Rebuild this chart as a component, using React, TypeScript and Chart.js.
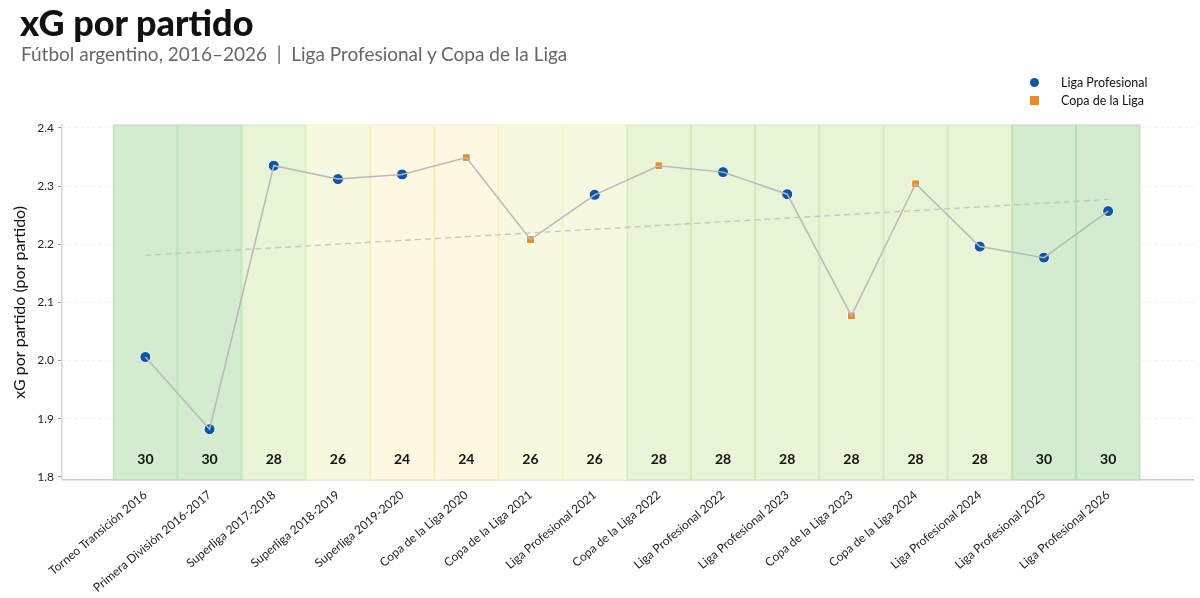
import React, { useEffect, useRef } from "react";
import { Chart, registerables } from "chart.js";
Chart.register(...registerables);

const categories = ["Torneo Transición 2016","Primera División 2016-2017","Superliga 2017-2018","Superliga 2018-2019","Superliga 2019-2020","Copa de la Liga 2020","Copa de la Liga 2021","Liga Profesional 2021","Copa de la Liga 2022","Liga Profesional 2022","Liga Profesional 2023","Copa de la Liga 2023","Copa de la Liga 2024","Liga Profesional 2024","Liga Profesional 2025","Liga Profesional 2026"];
const xgValues = [2.006,1.882,2.335,2.312,2.320,2.349,2.208,2.285,2.335,2.324,2.286,2.077,2.304,2.196,2.177,2.257];
const isCopa = [false,false,false,false,false,true,true,false,true,false,false,true,true,false,false,false];
const teams = [30,30,28,26,24,24,26,26,28,28,28,28,28,28,30,30];
const trendEnds = [2.181, 2.277];
const yTicks = [1.8,1.9,2.0,2.1,2.2,2.3,2.4];

const bandColor: Record<number,string> = {30:"#d3ecd0",28:"#e7f4d6",26:"#f6f9df",24:"#fef7e1"};
const bandLine: Record<number,string> = {30:"#b5deb0",28:"#cfe8b8",26:"#eef2c8",24:"#f8ecc0"};
const FONT = "Lato, 'Open Sans', sans-serif";

export default function App() {
  const ref = useRef<HTMLCanvasElement>(null);
  useEffect(() => {
    const bands = {
      id: "bands",
      beforeDatasetsDraw(c: any) {
        const x = c.scales.x, y = c.scales.y, ctx = c.ctx;
        ctx.save();
        teams.forEach((t, i) => {
          const l = x.getPixelForValue(i - 0.5), r = x.getPixelForValue(i + 0.5);
          const top = y.getPixelForValue(2.405), bot = y.getPixelForValue(1.795);
          ctx.fillStyle = bandColor[t];
          ctx.fillRect(l, top, r - l, bot - top);
          ctx.strokeStyle = bandLine[t];
          ctx.lineWidth = 1;
          ctx.strokeRect(l + 0.5, top, r - l - 1, bot - top);
        });
        ctx.fillStyle = "#111";
        ctx.font = `bold 14px ${FONT}`;
        ctx.textAlign = "center";
        ctx.textBaseline = "middle";
        teams.forEach((t, i) => ctx.fillText(String(t), x.getPixelForValue(i), y.getPixelForValue(1.83)));
        ctx.restore();
      },
    };
    const lp = xgValues.map((v, i) => (isCopa[i] ? null : { x: i, y: v })).filter(Boolean);
    const cp = xgValues.map((v, i) => (isCopa[i] ? { x: i, y: v } : null)).filter(Boolean);
    const chart = new Chart(ref.current!, {
      type: "scatter",
      data: {
        datasets: [
          { data: [{ x: 0, y: trendEnds[0] }, { x: 15, y: trendEnds[1] }], showLine: true, borderColor: "#c4c4c4", borderDash: [6, 4], borderWidth: 1.3, pointRadius: 0 },
          { data: xgValues.map((v, i) => ({ x: i, y: v })), showLine: true, borderColor: "#b8b8b8", borderWidth: 1.5, pointRadius: 0 },
          { data: lp as any, backgroundColor: "#0a56a8", borderColor: "#ffffff", borderWidth: 1, pointRadius: 5.5, pointStyle: "circle" },
          { data: cp as any, backgroundColor: "#ef8a1e", borderColor: "#ffffff", borderWidth: 1, pointRadius: 5.5, pointStyle: "rect" },
        ],
      },
      options: {
        animation: false,
        responsive: false,
        layout: { padding: { top: 125, right: 5, left: 6, bottom: 0 } },
        plugins: { legend: { display: false }, tooltip: { enabled: false } },
        scales: {
          x: {
            type: "linear", min: -1.3, max: 16.33,
            afterBuildTicks: (s: any) => { s.ticks = categories.map((_, i) => ({ value: i })); },
            ticks: { callback: (v: any) => categories[v], maxRotation: 40, minRotation: 40, color: "#222", font: { family: FONT, size: 12 }, autoSkip: false },
            grid: { display: false, drawTicks: true, tickLength: 5, color: "#bbb" },
            border: { color: "#cccccc", width: 1.5 },
          },
          y: {
            min: 1.795, max: 2.405,
            afterBuildTicks: (s: any) => { s.ticks = yTicks.map((v) => ({ value: v })); },
            ticks: { callback: (v: any) => Number(v).toFixed(1), color: "#222", font: { family: FONT, size: 12 }, padding: 4 },
            grid: { color: "#eeeeee", tickLength: 4, tickColor: "#999" } as any,
            border: { color: "#d8d8d8", width: 1.5, dash: [3, 3] } as any,
            title: { display: true, text: "xG por partido (por partido)", color: "#111", font: { family: FONT, size: 16 } },
          },
        },
      },
      plugins: [bands],
    });
    return () => chart.destroy();
  }, []);
  return (
    <div style={{ position: "absolute", left: 0, top: 0, width: 1200, height: 598, background: "#fff", fontFamily: FONT }}>
      <canvas ref={ref} width={1200} height={598} style={{ position: "absolute", left: 0, top: 0 }} />
      <div style={{ position: "absolute", left: 20, top: 0, fontSize: 36, fontWeight: 900, color: "#111" }}>xG por partido</div>
      <div style={{ position: "absolute", left: 21, top: 42, fontSize: 19, color: "#666" }}>Fútbol argentino, 2016–2026 &nbsp;|&nbsp; Liga Profesional y Copa de la Liga</div>
      <div style={{ position: "absolute", left: 1030, top: 74, fontSize: 12.5, color: "#111", lineHeight: "18px" }}>
        <div><span style={{ display: "inline-block", width: 9, height: 9, borderRadius: 5, background: "#0a56a8", marginRight: 22 }} />Liga Profesional</div>
        <div><span style={{ display: "inline-block", width: 9, height: 9, background: "#ef8a1e", marginRight: 22 }} />Copa de la Liga</div>
      </div>
    </div>
  );
}
